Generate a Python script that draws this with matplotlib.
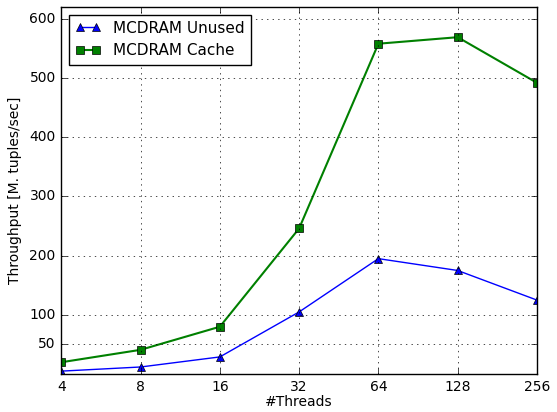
import numpy as np
import matplotlib
matplotlib.use('Agg')
import matplotlib.pyplot as plt

plt.style.use('classic')

threads = [4, 8, 16, 32, 64, 128, 256]
unused = [5, 12, 29, 105, 195, 175, 125]
cache = [20, 41, 80, 246, 558, 569, 492]
yticks = [50, 100, 200, 300, 400, 500, 600]

fig = plt.figure(figsize=(5.57, 4.12), dpi=100)
ax = fig.add_axes([0.11, 0.092, 0.854, 0.891])

ax.plot(threads, unused, c='b', marker='^', markersize=6, label='MCDRAM Unused')
ax.plot(threads, cache, c='g', marker='s', markersize=6, lw=1.5, label='MCDRAM Cache')

ax.set_xscale('log', base=2)
ax.set_xticks(threads)
ax.set_xticklabels([str(t) for t in threads])
ax.set_xlim(4, 256)
ax.set_ylim(0, 620)
ax.set_yticks(yticks)
ax.tick_params(labelsize=10)
ax.grid(True)
ax.set_xlabel('#Threads', fontsize=10, labelpad=1)
ax.set_ylabel('Throughput [M. tuples/sec]', fontsize=10)
ax.legend(loc='upper left', fontsize=11, numpoints=2, handlelength=1.7)

fig.savefig('out.png', dpi=100)
